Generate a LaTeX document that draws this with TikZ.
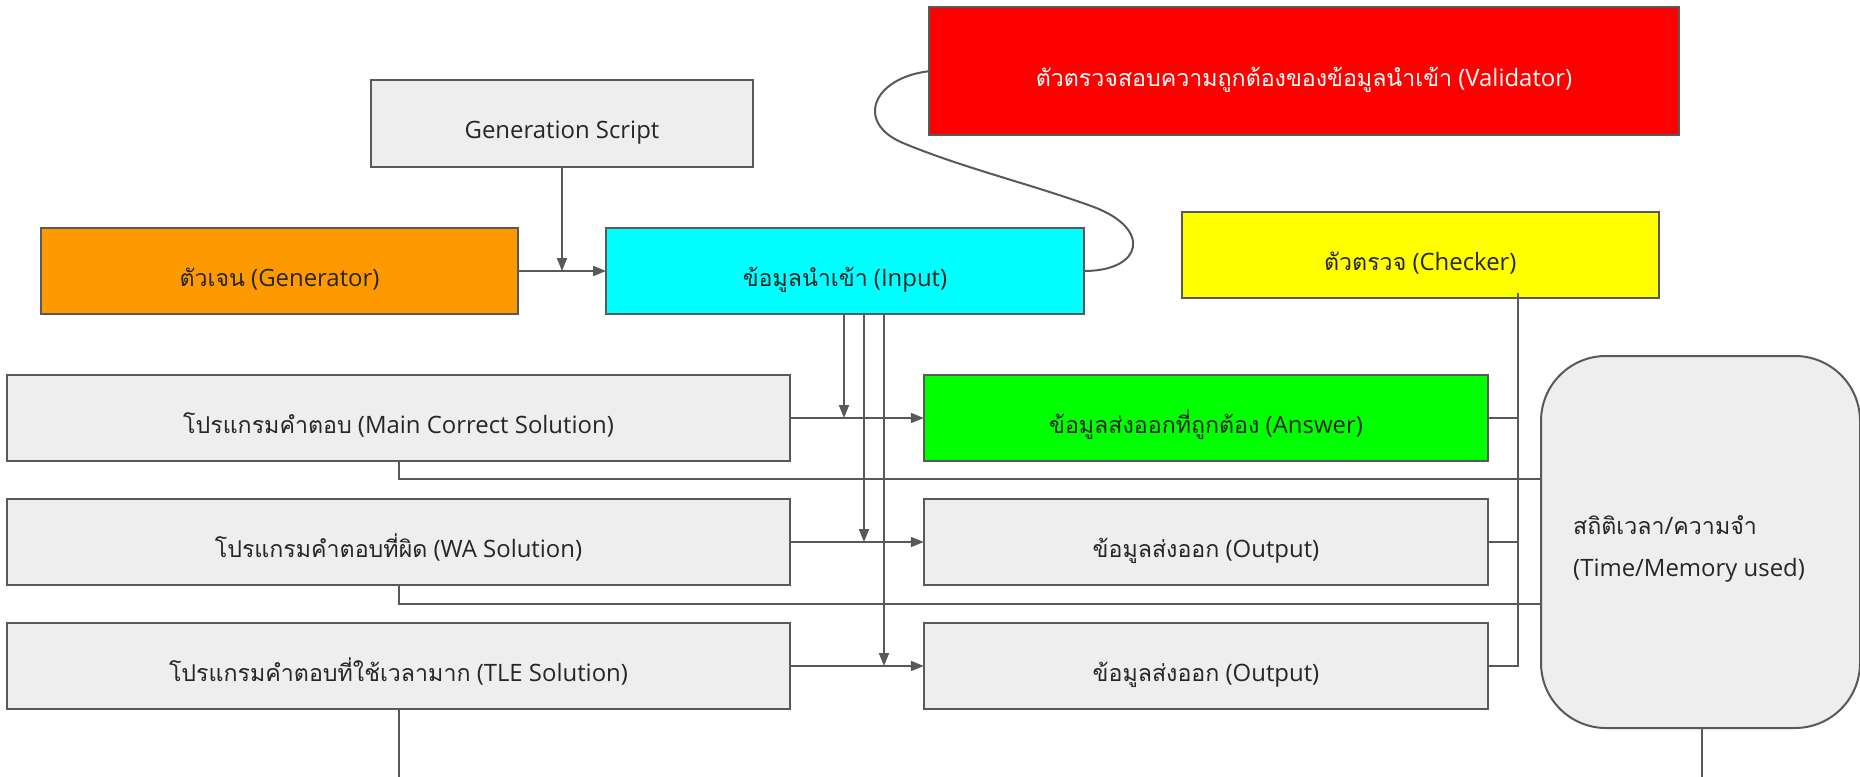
\documentclass[tikz,border=0pt]{standalone}
\usepackage{fontspec}
\setmainfont{Open Sans}
\newfontfamily\thaifont[Script=Thai,Scale=0.97]{Loma}
\newcommand\thx[1]{{\thaifont #1}}
\usetikzlibrary{arrows.meta}
\definecolor{ln}{HTML}{595959}
\definecolor{boxgray}{HTML}{EEEEEE}
\definecolor{cOrange}{HTML}{FF9900}
\definecolor{cCyan}{HTML}{00FFFF}
\definecolor{cRed}{HTML}{FF0000}
\definecolor{cYellow}{HTML}{FFFF00}
\definecolor{cGreen}{HTML}{00FF00}
\tikzset{
  txt/.style={font=\fontsize{24}{28}\selectfont, text=black!85},
  box/.style={txt, draw=ln, line width=2bp, fill=boxgray, inner sep=0pt, outer sep=0pt,
    align=center, text height=33bp, text depth=2bp},
  conn/.style={draw=ln, line width=2bp},
  arr/.style={conn, -{Triangle[length=13bp,width=10bp]}},
}
\begin{document}
\begin{tikzpicture}[x=1bp,y=-1bp]
\useasboundingbox (0,0) rectangle (1860,777);
\fill[white] (0,0) rectangle (1860,777);
% nodes
\node[box, minimum width=382.5bp, minimum height=86.7bp] (gs) at (562,123.3) {Generation Script};
\node[box, fill=cOrange, minimum width=477bp, minimum height=86bp] (gen) at (279.5,271) {\thx{ตัวเจน} (Generator)};
\node[box, fill=cCyan, minimum width=478bp, minimum height=86bp] (inp) at (845,271) {\thx{ข้อมูลนำเข้า} (Input)};
\node[box, fill=cRed, text=white, minimum width=750bp, minimum height=127.5bp] (val) at (1304,71.2) {\thx{ตัวตรวจสอบความถูกต้องของข้อมูลนำเข้า} (Validator)};
\node[box, fill=cYellow, minimum width=477bp, minimum height=86bp] (chk) at (1420.3,255) {\thx{ตัวตรวจ} (Checker)};
\node[box, minimum width=782bp, minimum height=86bp] (main) at (398.5,418) {\thx{โปรแกรมคำตอบ} (Main Correct Solution)};
\node[box, fill=cGreen, minimum width=564.5bp, minimum height=86bp] (ans) at (1206,418) {\thx{ข้อมูลส่งออกที่ถูกต้อง} (Answer)};
\node[box, minimum width=782bp, minimum height=86bp] (wa) at (398.5,542) {\thx{โปรแกรมคำตอบที่ผิด} (WA Solution)};
\node[box, minimum width=564.5bp, minimum height=86bp] (out1) at (1206,542) {\thx{ข้อมูลส่งออก} (Output)};
\node[box, minimum width=782bp, minimum height=86bp] (tle) at (398.5,666) {\thx{โปรแกรมคำตอบที่ใช้เวลามาก} (TLE Solution)};
\node[box, minimum width=564.5bp, minimum height=86bp] (out2) at (1206,666) {\thx{ข้อมูลส่งออก} (Output)};
\node[box, rounded corners=65bp, minimum width=319bp, minimum height=372bp] (stats) at (1700.5,542) {};
\node[txt, anchor=base west, inner sep=0pt] (st1) at (1573,534) {\thx{สถิติเวลา}/\thx{ความจำ}};
\node[txt, anchor=base west, inner sep=0pt] (st2) at (1573,576) {(Time/Memory used)};
% coordinates
\coordinate (ck) at (1518,293);
\coordinate (m1) at (398.5,479);
\coordinate (w1) at (398.5,603.5);
\coordinate (tleend) at (398.5,777);
\coordinate (stend) at (1701.5,777);
% connectors
\draw[arr] (gs.south) -- (gs.south |- gen.east);
\draw[arr] (gen.east) -- (inp.west);
\draw[conn] (inp.east) .. controls (1143,271) and (1152.4,228.7) .. (1093,206.7)
  .. controls (1033,184.7) and (963,168) .. (903,143)
  .. controls (855,123) and (872,78) .. (val.west);
\draw[arr] (main.east) -- (ans.west);
\draw[arr] (wa.east) -- (out1.west);
\draw[arr] (tle.east) -- (out2.west);
\draw[arr] ([xshift=-1bp]inp.south) -- ([xshift=-1bp]inp.south |- main.east);
\draw[arr] ([xshift=19bp]inp.south) -- ([xshift=19bp]inp.south |- wa.east);
\draw[arr] ([xshift=39bp]inp.south) -- ([xshift=39bp]inp.south |- tle.east);
\draw[conn] (main.south) -- (m1) -- (m1 -| stats.west);
\draw[conn] (wa.south) -- (w1) -- (w1 -| stats.west);
\draw[conn] (tle.south) -- (tleend);
\draw[conn] ([xshift=1bp]stats.south) -- (stend);
\draw[conn] (ck) -- (ck |- out2.east) -- (out2.east);
\draw[conn] (ans.east) -- (ans.east -| ck);
\draw[conn] (out1.east) -- (out1.east -| ck);
\end{tikzpicture}
\end{document}
